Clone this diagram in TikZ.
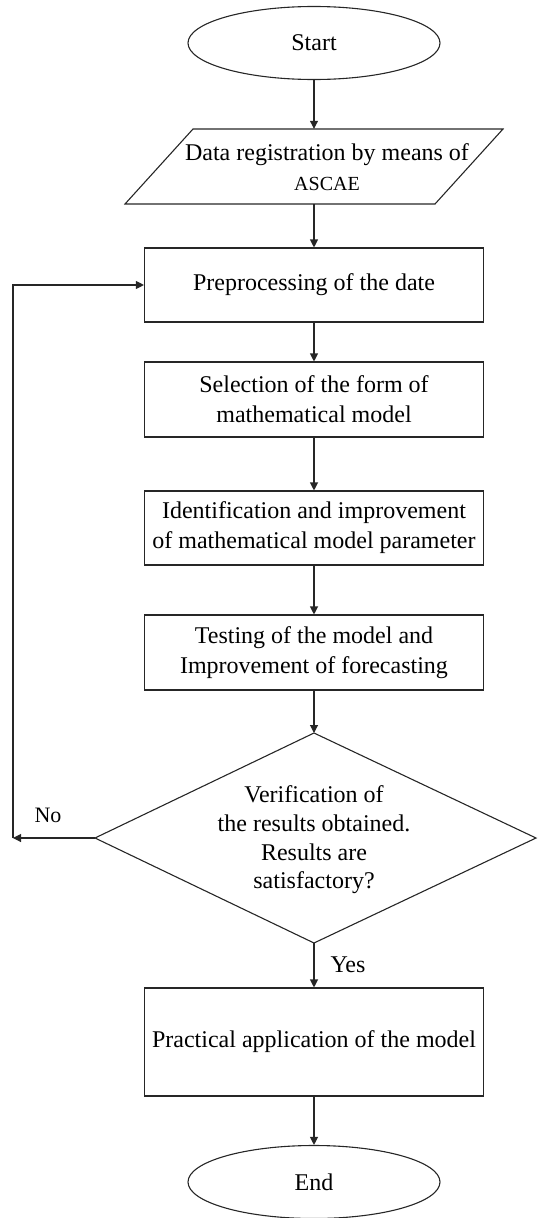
\documentclass[tikz,border=0pt]{standalone}
\usepackage{fontspec}
\setmainfont{Liberation Serif}
\usetikzlibrary{arrows.meta,shapes.geometric}
\begin{document}
\begin{tikzpicture}[x=1pt,y=-1pt,
  line/.style={draw=black!85, line width=1.1pt},
  arr/.style={line, -{Triangle[length=8pt,width=8pt]}},
  txt/.style={font=\fontsize{24}{30}\selectfont},
  box/.style={line, rectangle, minimum width=339pt, align=center, inner sep=0pt, txt},
  term/.style={line, ellipse, minimum width=252pt, minimum height=73pt, inner sep=0pt, txt},
  lbl/.style={inner sep=0pt, txt}]
\useasboundingbox (0,0) rectangle (540,1218);
% terminals and boxes
\node[term] (start) at (314,43) {Start};
\coordinate (ptl) at (193,129);
\coordinate (ptr) at (503,129);
\coordinate (pbr) at (435,204);
\coordinate (pbl) at (125,204);
\draw[line] (ptl) -- (ptr) -- (pbr) -- (pbl) -- cycle;
\node[minimum height=75pt, minimum width=200pt, inner sep=0pt] (data) at (314,166.5) {};
\node[lbl, anchor=base] (data1) at (327,160) {Data registration by means of};
\node[lbl, anchor=base, font=\fontsize{20}{24}\selectfont] (data2) at (327,190) {ASCAE};
\node[box, minimum height=74pt] (pre) at (314,285) {Preprocessing of the date};
\node[box, minimum height=75pt] (sel) at (314,399.5) {Selection of the form of\\mathematical model};
\node[box, minimum height=74pt] (ide) at (314,528) {Identification and improvement\\of mathematical model parameter};
\node[box, minimum height=75pt] (tes) at (314,652.5) {Testing of the model and\\Improvement of forecasting};
% decision
\coordinate (dt) at (314,733);
\coordinate (dr) at (536,838);
\coordinate (db) at (314,943);
\coordinate (dl) at (95,838);
\draw[line] (dt) -- (dr) -- (db) -- (dl) -- cycle;
\node[lbl, align=center, font=\fontsize{24}{28.7}\selectfont] (dec) at (314,840) {Verification of\\the results obtained.\\Results are\\satisfactory?};
\node[box, minimum height=108pt] (app) at (314,1042) {Practical application of the model};
\node[term] (end) at (314,1182) {End};
% connectors
\draw[arr] (start) -- (data);
\draw[arr] (data) -- (pre);
\draw[arr] (pre) -- (sel);
\draw[arr] (sel) -- (ide);
\draw[arr] (ide) -- (tes);
\draw[arr] (tes) -- (dt);
\coordinate (lc) at (13,838);
\draw[arr] (dl) -- (lc);
\draw[arr] (lc) |- (pre.west);
\draw[arr] (db) -- (app);
\draw[arr] (app) -- (end);
% labels
\node[lbl, font=\fontsize{22}{26}\selectfont] (no) at (48,815) {No};
\node[lbl] (yes) at (348,965) {Yes};
\end{tikzpicture}
\end{document}
